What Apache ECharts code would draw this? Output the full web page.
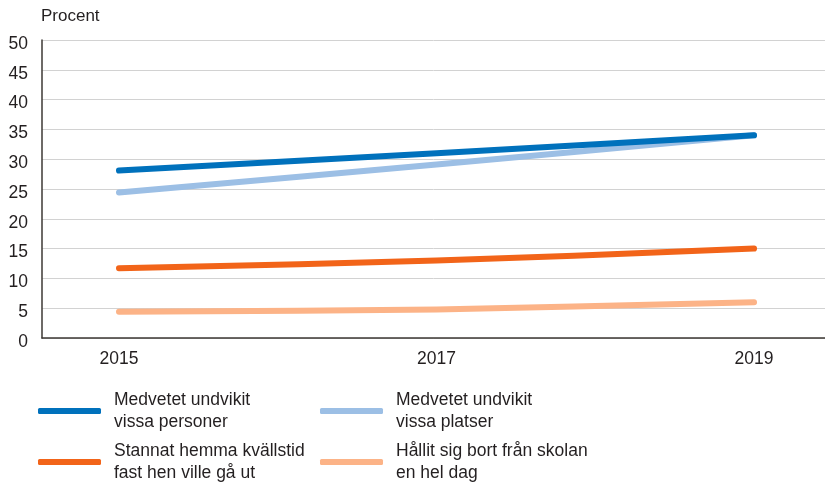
<!DOCTYPE html>
<html>
<head>
<meta charset="utf-8">
<script src="https://cdn.jsdelivr.net/npm/echarts@6/dist/echarts.min.js"></script>
<style>
  html, body { margin: 0; padding: 0; background: #fff; }
  #chart { width: 825px; height: 483px; }
</style>
</head>
<body>
<div id="chart"></div>
<script>
// years on the x axis
const years = [2015, 2017, 2019]

// series values (procent)
const undvikitPersoner = [28.1, 31.0, 34.0]
const undvikitPlatser = [24.4, 29.1, 34.0]
const stannatHemma = [11.7, 13.0, 15.0]
const hallitSigBort = [4.4, 4.8, 6.0]

const seriesNames = [
  'Medvetet undvikit\nvissa personer',
  'Medvetet undvikit\nvissa platser',
  'Stannat hemma kvällstid\nfast hen ville gå ut',
  'Hållit sig bort från skolan\nen hel dag',
]
const seriesValues = [undvikitPersoner, undvikitPlatser, stannatHemma, hallitSigBort]
const colors = ['#0071bc', '#9cbfe5', '#f26419', '#fcb387']

const textColor = '#231f20'
const font = 'Liberation Sans, Arial, Helvetica, sans-serif'

const chart = echarts.init(document.getElementById('chart'))

// one legend per item so each can sit where the original has it
const legendPos = [
  { left: 33, top: 384 },
  { left: 315, top: 384 },
  { left: 33, top: 435 },
  { left: 315, top: 435 },
]
const legends = seriesNames.map((name, i) => ({
  data: [name],
  left: legendPos[i].left,
  top: legendPos[i].top,
  icon: 'roundRect',
  itemWidth: 63,
  itemHeight: 6,
  selectedMode: false,
  textStyle: {
    color: textColor,
    fontFamily: font,
    fontSize: 17.5,
    lineHeight: 22,
    padding: [0, 0, 0, 8],
  },
}))

chart.setOption({
  animation: false,
  title: {
    text: 'Procent',
    left: 36,
    top: 3,
    textStyle: { color: textColor, fontFamily: font, fontSize: 17, fontWeight: 'normal' },
  },
  legend: legends,
  grid: { left: 42, right: 0, top: 40, bottom: 145, containLabel: false },
  xAxis: {
    type: 'value',
    min: 2014.515,
    max: 2019.447,
    splitLine: { show: false },
    axisTick: { show: false },
    axisLine: { show: true, lineStyle: { color: '#3d3935', width: 1.5 } },
    axisLabel: {
      customValues: years,
      color: textColor,
      fontFamily: font,
      fontSize: 17.5,
      margin: 12,
      formatter: v => String(v),
    },
  },
  yAxis: {
    type: 'value',
    min: 0,
    max: 50,
    interval: 5,
    axisLine: { show: true, lineStyle: { color: '#3d3935', width: 1.5 } },
    axisTick: { show: false },
    splitLine: { lineStyle: { color: '#d2d2d2', width: 1 } },
    axisLabel: {
      color: textColor,
      fontFamily: font,
      fontSize: 17.5,
      margin: 14,
      verticalAlign: 'top',
      lineHeight: 8,
    },
  },
  series: seriesValues.map((vals, i) => ({
    name: seriesNames[i],
    type: 'line',
    data: years.map((y, j) => [y, vals[j]]),
    smooth: 0.3,
    showSymbol: false,
    symbol: 'none',
    color: colors[i],
    lineStyle: { color: colors[i], width: 6, cap: 'round', join: 'round' },
    z: 4 - i,
  })),
})
</script>
</body>
</html>
